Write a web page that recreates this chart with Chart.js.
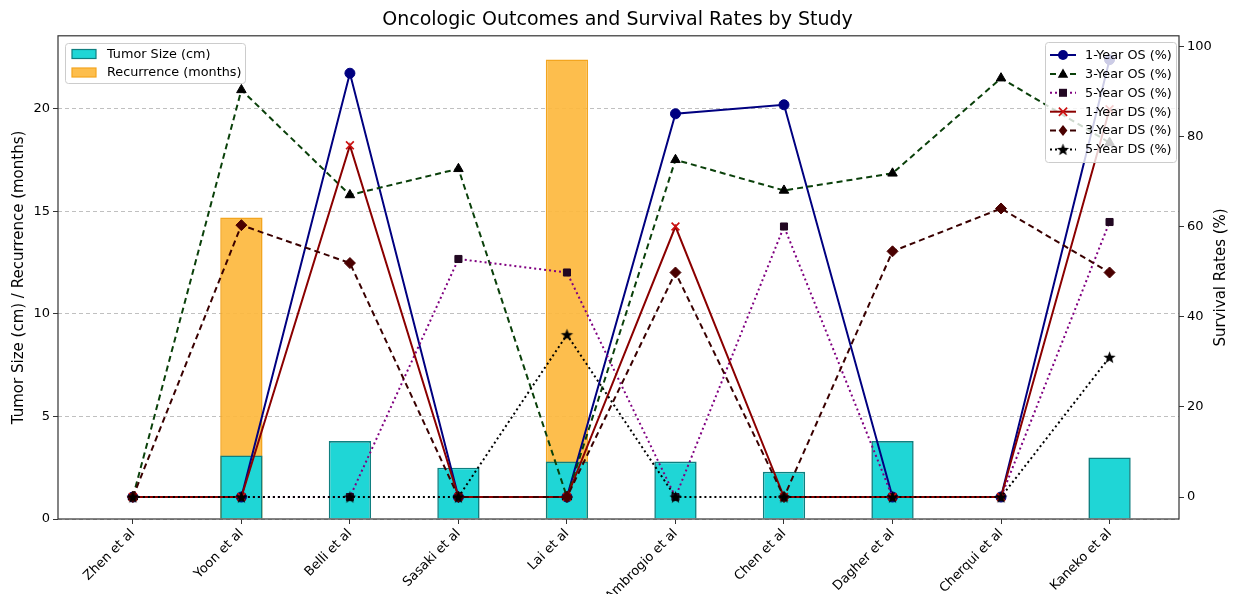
<!DOCTYPE html>
<html>
<head>
<meta charset="utf-8">
<title>Oncologic Outcomes and Survival Rates by Study</title>
<script src="https://cdn.jsdelivr.net/npm/chart.js"></script>
<style>
  html, body { margin: 0; padding: 0; background: #fff; }
  canvas { display: block; }
</style>
</head>
<body>
<canvas id="chart" width="1235" height="594"></canvas>
<script>
// ---- data ----
const studies = ["Zhen et al", "Yoon et al", "Belli et al", "Sasaki et al", "Lai et al",
                 "Ambrogio et al", "Chen et al", "Dagher et al", "Cherqui et al", "Kaneko et al"];

const tumorSize  = [null, 3.1, 3.8, 2.5, 2.8, 2.8, 2.3, 3.8, null, 3.0];
const recurrence = [null, 14.7, null, null, 22.4, null, null, null, null, null];

const os1Year = [0, 0, 94, 0, 0, 85, 87, 0, 0, 97];
const os3Year = [0, 90.3, 67, 72.8, 0, 74.8, 68, 71.8, 92.9, 78.6];
const os5Year = [0, 0, 0, 52.8, 49.8, 0, 60, 0, 0, 61];
const ds1Year = [0, 0, 78, 0, 0, 60, 0, 0, 0, 86];
const ds3Year = [0, 60.3, 51.9, 0, 0, 49.8, 0, 54.5, 64, 49.8];
const ds5Year = [0, 0, 0, 0, 36, 0, 0, 0, 0, 31];

const leftTicks  = [0, 5, 10, 15, 20];
const rightTicks = [0, 20, 40, 60, 80, 100];

const FONT = "'DejaVu Sans', 'Liberation Sans', sans-serif";

// filled five point star, used as a point style
function makeStar(r, color) {
  const c = document.createElement("canvas");
  c.width = c.height = Math.ceil(r * 2 + 2);
  const g = c.getContext("2d");
  g.translate(c.width / 2, c.height / 2 + 0.5);
  g.beginPath();
  for (let k = 0; k < 10; k++) {
    const rad = k % 2 ? r * 0.42 : r;
    const a = -Math.PI / 2 + k * Math.PI / 5;
    g.lineTo(rad * Math.cos(a), rad * Math.sin(a));
  }
  g.closePath();
  g.fillStyle = color;
  g.fill();
  return c;
}
const starMarker = makeStar(6.5, "#000");

const toXY = (arr) => arr.map((v, i) => ({ x: i, y: v }));

function lineSet(label, values, color, dash, pointStyle, pointColor, radius, order) {
  return {
    type: "line",
    label: label,
    data: toXY(values),
    yAxisID: "y1",
    borderColor: color,
    borderWidth: 2,
    borderDash: dash,
    pointStyle: pointStyle,
    pointRadius: radius,
    pointBackgroundColor: pointColor,
    pointBorderColor: pointColor,
    pointBorderWidth: pointStyle === "crossRot" ? 1.7 : 1,
    tension: 0,
    fill: false,
    order: order
  };
}

const lineSets = [
  lineSet("1-Year OS (%)", os1Year, "#000080", [], "circle", "#000080", 5, 6),
  lineSet("3-Year OS (%)", os3Year, "#0a400a", [6, 4], "triangle", "#000", 5.5, 5),
  lineSet("5-Year OS (%)", os5Year, "#800080", [2, 3], "rect", "#220822", 5, 4),
  lineSet("1-Year DS (%)", ds1Year, "#8b0000", [], "crossRot", "#cc1111", 5.5, 3),
  lineSet("3-Year DS (%)", ds3Year, "#3a0000", [6, 4], "rectRot", "#4a0000", 5.5, 2),
  lineSet("5-Year DS (%)", ds5Year, "#000", [2, 3], starMarker, "#000", 6.5, 1)
];

const barSets = [
  {
    type: "bar",
    label: "Tumor Size (cm)",
    data: toXY(tumorSize),
    yAxisID: "y",
    backgroundColor: "#1fd6d6",
    borderColor: "#0f7f80",
    borderWidth: 1.6,
    grouped: false,
    barPercentage: 0.39,
    categoryPercentage: 1,
    order: 7
  },
  {
    type: "bar",
    label: "Recurrence (months)",
    data: toXY(recurrence),
    yAxisID: "y",
    backgroundColor: "rgba(253, 184, 62, 0.92)",
    borderColor: "#f3a51f",
    borderWidth: 1.6,
    grouped: false,
    barPercentage: 0.39,
    categoryPercentage: 1,
    order: 8
  }
];

// small marker painter for the legends
function drawMarker(ctx, style, x, y, r, fill, stroke) {
  ctx.save();
  ctx.fillStyle = fill;
  ctx.strokeStyle = stroke;
  if (style instanceof HTMLCanvasElement) {
    ctx.drawImage(style, x - style.width / 2, y - style.height / 2);
    ctx.restore();
    return;
  }
  ctx.beginPath();
  if (style === "circle") {
    ctx.arc(x, y, r, 0, Math.PI * 2);
    ctx.fill();
  } else if (style === "triangle") {
    ctx.moveTo(x, y - r);
    ctx.lineTo(x + r * 0.95, y + r * 0.7);
    ctx.lineTo(x - r * 0.95, y + r * 0.7);
    ctx.closePath();
    ctx.fill();
  } else if (style === "rect") {
    ctx.rect(x - r * 0.8, y - r * 0.8, r * 1.6, r * 1.6);
    ctx.fill();
  } else if (style === "rectRot") {
    ctx.moveTo(x, y - r);
    ctx.lineTo(x + r * 0.8, y);
    ctx.lineTo(x, y + r);
    ctx.lineTo(x - r * 0.8, y);
    ctx.closePath();
    ctx.fill();
  } else if (style === "crossRot") {
    ctx.lineWidth = 1.7;
    const d = r * 0.75;
    ctx.moveTo(x - d, y - d); ctx.lineTo(x + d, y + d);
    ctx.moveTo(x + d, y - d); ctx.lineTo(x - d, y + d);
    ctx.stroke();
  }
  ctx.restore();
}

function legendBox(ctx, x, y, w, h) {
  ctx.save();
  ctx.beginPath();
  ctx.roundRect(x + 0.5, y + 0.5, w, h, 3);
  ctx.fillStyle = "rgba(255,255,255,0.8)";
  ctx.fill();
  ctx.strokeStyle = "#cccccc";
  ctx.lineWidth = 1;
  ctx.stroke();
  ctx.restore();
}

const decorPlugin = {
  id: "decor",
  afterDatasetsDraw(chart) {
    const ctx = chart.ctx;
    const a = chart.chartArea;

    // axes frame
    ctx.save();
    ctx.strokeStyle = "#333";
    ctx.lineWidth = 1.2;
    ctx.strokeRect(a.left, a.top, a.right - a.left, a.bottom - a.top);
    ctx.restore();

    ctx.save();
    ctx.font = "12.8px " + FONT;
    ctx.textBaseline = "middle";
    ctx.fillStyle = "#000";

    // bar legend (upper left)
    legendBox(ctx, 65, 43, 180, 40);
    barSets.forEach((ds, i) => {
      const cy = 54 + i * 18.5;
      ctx.fillStyle = ds.backgroundColor;
      ctx.fillRect(72, cy - 4.5, 24, 9);
      ctx.strokeStyle = ds.borderColor;
      ctx.lineWidth = 1.2;
      ctx.strokeRect(72, cy - 4.5, 24, 9);
      ctx.fillStyle = "#000";
      ctx.fillText(ds.label, 107, cy + 0.5);
    });

    // line legend (upper right)
    legendBox(ctx, 1045, 42, 131, 120);
    lineSets.forEach((ds, i) => {
      const cy = 55 + i * 18.9;
      ctx.save();
      ctx.strokeStyle = ds.borderColor;
      ctx.lineWidth = ds.borderWidth;
      ctx.setLineDash(ds.borderDash);
      ctx.beginPath();
      ctx.moveTo(1050, cy);
      ctx.lineTo(1076, cy);
      ctx.stroke();
      ctx.restore();
      drawMarker(ctx, ds.pointStyle, 1063, cy, ds.pointRadius, ds.pointBackgroundColor, ds.pointBorderColor);
      ctx.fillStyle = "#000";
      ctx.fillText(ds.label, 1085, cy + 0.5);
    });
    ctx.restore();
  },
  afterDraw(chart) {
    // right axis title, reading bottom to top
    const ctx = chart.ctx;
    const a = chart.chartArea;
    ctx.save();
    ctx.font = "15px " + FONT;
    ctx.fillStyle = "#000";
    ctx.textAlign = "center";
    ctx.textBaseline = "middle";
    ctx.translate(1221, (a.top + a.bottom) / 2);
    ctx.rotate(-Math.PI / 2);
    ctx.fillText("Survival Rates (%)", 0, 0);
    ctx.restore();
  }
};

new Chart(document.getElementById("chart"), {
  type: "bar",
  data: { datasets: barSets.concat(lineSets) },
  options: {
    responsive: false,
    animation: false,
    layout: { padding: 0 },
    plugins: {
      legend: { display: false },
      tooltip: { enabled: false },
      title: {
        display: true,
        text: "Oncologic Outcomes and Survival Rates by Study",
        color: "#000",
        font: { family: FONT, size: 19, weight: "normal" },
        padding: { top: 9, bottom: 4 }
      }
    },
    scales: {
      x: {
        type: "linear",
        min: -0.69,
        max: 9.64,
        offset: false,
        afterBuildTicks: (s) => { s.ticks = studies.map((_, i) => ({ value: i })); },
        afterFit: (s) => { s.height = 75; },
        ticks: {
          autoSkip: false,
          minRotation: 45,
          maxRotation: 45,
          padding: 2,
          color: "#000",
          font: { family: FONT, size: 13 },
          callback: (v) => studies[Math.round(v)]
        },
        grid: { drawOnChartArea: false, offset: false, tickLength: 5, tickColor: "#333", tickWidth: 1 },
        border: { display: false }
      },
      y: {
        type: "linear",
        position: "left",
        min: 0,
        max: 23.55,
        afterBuildTicks: (s) => { s.ticks = leftTicks.map((v) => ({ value: v })); },
        afterFit: (s) => { s.width = 58; },
        title: {
          display: true,
          text: "Tumor Size (cm) / Recurrence (months)",
          color: "#000",
          font: { family: FONT, size: 15 },
          padding: { top: 10, bottom: 4 }
        },
        ticks: { color: "#000", padding: 3, font: { family: FONT, size: 13 } },
        grid: { color: "#b0b0b0", lineWidth: 0.8, tickLength: 5, tickColor: "#333", tickWidth: 1 },
        border: { display: false, dash: [4, 3] }
      },
      y1: {
        type: "linear",
        position: "right",
        min: -4.87,
        max: 102.3,
        afterBuildTicks: (s) => { s.ticks = rightTicks.map((v) => ({ value: v })); },
        afterFit: (s) => { s.width = 56; },
        ticks: { color: "#000", padding: 3, font: { family: FONT, size: 13 } },
        grid: { drawOnChartArea: false, tickLength: 5, tickColor: "#333", tickWidth: 1 },
        border: { display: false }
      }
    }
  },
  plugins: [decorPlugin]
});
</script>
</body>
</html>
